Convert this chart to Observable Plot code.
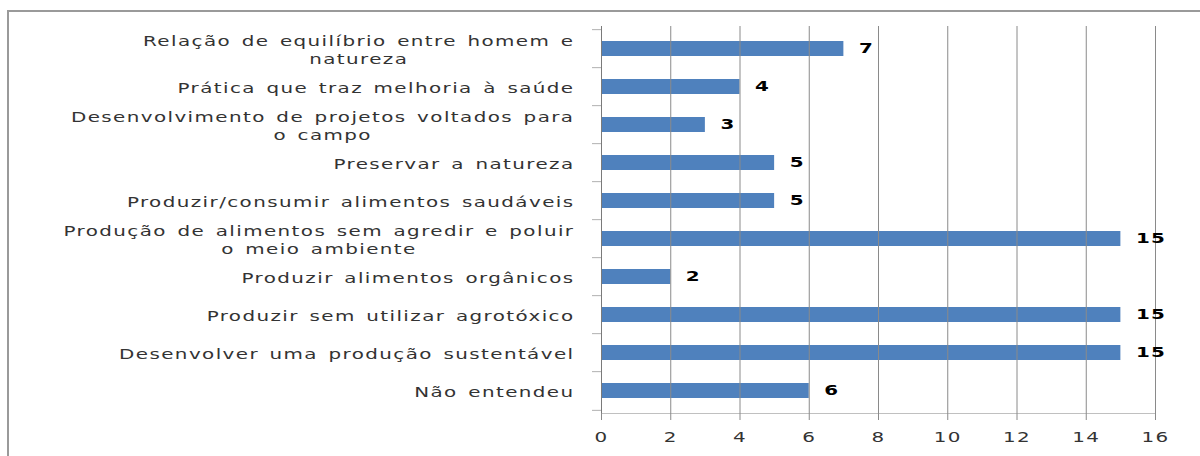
<!DOCTYPE html>
<html>
<head>
<meta charset="utf-8">
<script src="https://cdn.jsdelivr.net/npm/d3@7"></script>
<script src="https://cdn.jsdelivr.net/npm/@observablehq/plot@0.6"></script>
<style>
  html, body { margin: 0; padding: 0; background: #fff; overflow: hidden; }
  #wrap { position: relative; width: 1200px; height: 456px; }
  #border { position: absolute; left: 7px; top: 10px; width: 1300px; height: 500px;
            border-left: 2px solid #9a9a9a; border-top: 2px solid #9a9a9a; pointer-events: none; }
</style>
</head>
<body>
<div id="wrap"><div id="border"></div></div>
<script>
const categories = [
  "Relação de equilíbrio entre homem e\nnatureza",
  "Prática que traz melhoria à saúde",
  "Desenvolvimento de projetos voltados para\no campo",
  "Preservar a natureza",
  "Produzir/consumir alimentos saudáveis",
  "Produção de alimentos sem agredir e poluir\no meio ambiente",
  "Produzir alimentos orgânicos",
  "Produzir sem utilizar agrotóxico",
  "Desenvolver uma produção sustentável",
  "Não entendeu"
];
const values = [7, 4, 3, 5, 5, 15, 2, 15, 15, 6];
const xTicks = [0, 2, 4, 6, 8, 10, 12, 14, 16];

const data = categories.map((c, i) => ({category: c, value: values[i]}));

const W = 1200, H = 456, mT = 26, mB = 43;
const step = (H - mT - mB) / categories.length;
const STRETCH = 1.42;

const chart = Plot.plot({
  width: W,
  height: H,
  marginLeft: 601,
  marginRight: 45,
  marginTop: mT,
  marginBottom: mB,
  style: {fontFamily: "DejaVu Sans", background: "transparent", letterSpacing: "1px", wordSpacing: "2px"},
  x: {domain: [0, 16], ticks: xTicks},
  y: {domain: categories, paddingInner: 0.6, paddingOuter: 0.3},
  marks: [
    Plot.barX(data, {x: "value", y: "category", fill: "#4F81BD"}),
    Plot.ruleX(xTicks.slice(1), {stroke: "#8a8a8a", strokeWidth: 1}),
    Plot.ruleX([0], {stroke: "#7a7a7a", strokeWidth: 1}),
    Plot.frame({anchor: "bottom", stroke: "#c0c0c0"}),
    Plot.axisX({ticks: xTicks, tickSize: 7, tickPadding: 12, stroke: "#8a8a8a", fill: "#333", fontSize: 14, label: null}),
    Plot.axisY({tickSize: 0, tickPadding: 27, fontSize: 14, fill: "#333", lineHeight: 1.3, label: null}),
    Plot.axisY({tickSize: 9, tickFormat: () => "", dy: -step / 2, stroke: "#b0b0b0", label: null}),
    Plot.axisY({ticks: [categories[categories.length - 1]], tickSize: 9, tickFormat: () => "", dy: step / 2, stroke: "#b0b0b0", label: null}),
    Plot.text(data, {x: "value", y: "category", text: d => String(d.value), textAnchor: "start", dx: 15,
      fontWeight: "bold", fontSize: 14, fill: "#000", className: "vals"})
  ]
});
document.getElementById("wrap").appendChild(chart);
chart.style.position = "absolute";
chart.style.left = "0px";
chart.style.top = "0px";

// horizontal stretch of glyphs to match the reference's wide lettering (scale about the anchor)
function stretch(t, s) {
  const tr = t.getAttribute("transform") || "";
  t.setAttribute("transform", `${tr} scale(${s},1)`);
}
// center wrapped lines within their block (block itself stays right-aligned)
chart.querySelectorAll('g[aria-label="y-axis tick label"] text').forEach(t => {
  const spans = t.querySelectorAll("tspan");
  if (spans.length > 1) {
    const w = t.getBBox().width;
    t.setAttribute("text-anchor", "middle");
    spans.forEach(sp => { sp.setAttribute("x", -w / 2); sp.setAttribute("text-anchor", "middle"); });
  }
});
chart.querySelectorAll('g[aria-label="y-axis tick label"] text, g[aria-label="x-axis tick label"] text, .vals text, text.vals')
  .forEach(t => stretch(t, STRETCH));
</script>
</body>
</html>
